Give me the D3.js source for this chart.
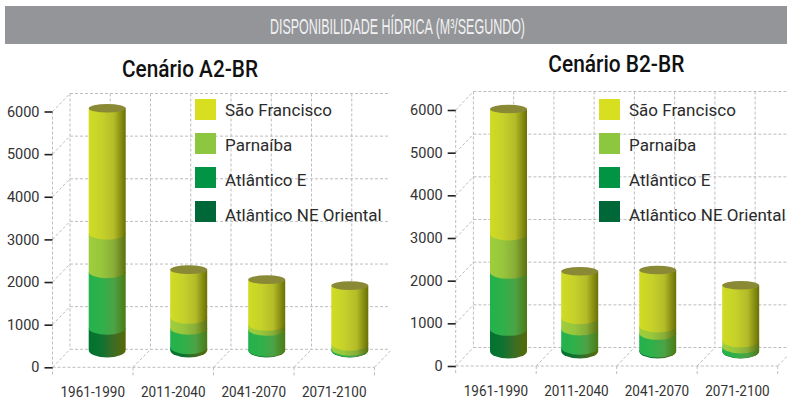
<!DOCTYPE html>
<html><head><meta charset="utf-8">
<script src="https://cdn.jsdelivr.net/npm/d3@7"></script>
<style>
html,body{margin:0;padding:0;background:#fff}
svg{display:block}
text{font-family:Roboto,sans-serif}
</style></head><body><svg id="c" width="787" height="413"></svg>
<script>
const periods = ["1961-1990","2011-2040","2041-2070","2071-2100"];
const seriesNames = ["São Francisco","Parnaíba","Atlântico E","Atlântico NE Oriental"];
const yTicks = [0,1000,2000,3000,4000,5000,6000];
const headerTitle = "DISPONIBILIDADE HÍDRICA (M³/SEGUNDO)";

// Scenario A2-BR (m³/s)
const a2NeOriental = [510,78,15,5];
const a2AtlanticoE = [1328,432,470,35];
const a2Parnaiba = [902,257,118,117];
const a2SaoFrancisco = [2930,1118,1047,1353];
// Scenario B2-BR (m³/s)
const b2NeOriental = [508,87,23,7];
const b2AtlanticoE = [1337,429,392,110];
const b2Parnaiba = [897,264,171,141];
const b2SaoFrancisco = [2929,1088,1312,1282];

const swatchColors = ["#d7df20","#8dc63f","#009444","#006838"];
const stackKeys = ["ne","e","p","sf"];
const sideStops = {
  sf:["#d0dc22","#c6d12a","#b4bc28","#6a7004"],
  p:["#9fce3c","#97c63c","#88ad38","#5c700e"],
  e:["#22b24c","#2fb04a","#4ca346","#4b7a14"],
  ne:["#00742f","#0f7230","#3e6c24","#566a06"]
};

const svg = d3.select("#c");
const defs = svg.append("defs");
stackKeys.forEach(k=>{
  const g = defs.append("linearGradient").attr("id","g-"+k);
  [0,.35,.68,1].forEach((o,i)=>g.append("stop").attr("offset",o).attr("stop-color",sideStops[k][i]));
});

svg.append("rect").attr("x",5).attr("y",6).attr("width",782).attr("height",38).attr("fill","#939598");
svg.append("text").attr("x",397.5).attr("y",34).attr("text-anchor","middle")
  .attr("fill","#f1f1f2").style("font-family","'Liberation Sans Narrow',sans-serif")
  .attr("font-size",21.5).attr("textLength",255).attr("lengthAdjust","spacingAndGlyphs").text(headerTitle);

function panel(cfg, values){
  const g = svg.append("g");
  const y = d3.scaleLinear().domain([0,6000]).range([cfg.y0,cfg.y6]);
  const x = d3.scaleBand().domain(periods).range([cfg.x0,cfg.x1]);
  const bx = d3.scaleOrdinal().domain(periods).range(cfg.centers);
  const backY = v=>y(v)-cfg.dy;
  const dash = s=>s.attr("stroke","#bdbdbd").attr("stroke-width",1).attr("stroke-dasharray","3 2").attr("fill","none");

  const grid = g.append("g");
  grid.selectAll("line.h").data(yTicks).join("line")
    .attr("x1",cfg.x0+cfg.dx).attr("x2",cfg.xEnd).attr("y1",backY).attr("y2",backY).call(dash);
  grid.selectAll("line.d").data(yTicks).join("line")
    .attr("x1",cfg.x0).attr("x2",cfg.x0+cfg.dx).attr("y1",v=>y(v)).attr("y2",backY).call(dash);
  const backX = d3.range(0,periods.length*2).map(i=>cfg.x0+cfg.dx+i*x.bandwidth()/2);
  grid.selectAll("line.v").data(backX).join("line")
    .attr("x1",d=>d).attr("x2",d=>d).attr("y1",backY(6000)).attr("y2",backY(0)).call(dash);
  grid.append("line").attr("x1",cfg.x0).attr("x2",cfg.x0).attr("y1",y(6000)).attr("y2",y(0)+8).call(dash);
  grid.append("line").attr("x1",cfg.x0).attr("x2",cfg.x1).attr("y1",y(0)).attr("y2",y(0)).call(dash);
  const bounds = d3.range(1,periods.length+1).map(i=>cfg.x0+i*x.bandwidth());
  grid.selectAll("line.f").data(bounds).join("line")
    .attr("x1",d=>d).attr("x2",d=>d+cfg.dx).attr("y1",y(0)).attr("y2",backY(0)).call(dash);
  grid.selectAll("line.t").data(bounds).join("line")
    .attr("x1",d=>d).attr("x2",d=>d).attr("y1",y(0)).attr("y2",y(0)+8).call(dash);

  const ya = g.append("g").attr("transform",`translate(${cfg.x0},0)`)
    .call(d3.axisLeft(y).tickValues(yTicks).tickSize(8).tickPadding(5).tickFormat(d3.format("d")));
  ya.select(".domain").remove();
  ya.selectAll("line").attr("stroke","#231f20").attr("stroke-width",1.6);
  ya.selectAll("text").attr("font-size",14.5).attr("fill","#333");

  const xa = g.append("g").attr("transform",`translate(0,${cfg.y0})`)
    .call(d3.axisBottom(x).tickSize(0).tickPadding(0));
  xa.select(".domain").remove();
  xa.selectAll("text").attr("font-size",14).attr("fill","#333").attr("dy",null)
    .attr("y",cfg.labelY-cfg.y0).attr("textLength",64.5).attr("lengthAdjust","spacingAndGlyphs");

  const rows = periods.map((p,i)=>({period:p,ne:values.ne[i],e:values.e[i],p:values.p[i],sf:values.sf[i]}));
  const stack = d3.stack().keys(stackKeys)(rows);
  const rx = 18.5;
  const yB = v=>cfg.base-(y(0)-y(v));
  const bars = g.selectAll("g.bar").data(rows).join("g").attr("class","bar");
  stack.forEach((layer,li)=>{
    bars.append("path")
      .attr("fill",`url(#g-${layer.key})`)
      .attr("d",(d,i)=>{
        const [v0,v1]=layer[i];
        const c=bx(d.period), l=c-rx, r=c+rx;
        const ry = (li===0||v0<300)?7.5:6.5;
        return `M${l},${yB(v1)}L${l},${yB(v0)}A${rx},${ry} 0 0 0 ${r},${yB(v0)}L${r},${yB(v1)}Z`;
      });
  });
  const top = stack[stack.length-1];
  bars.append("ellipse")
    .attr("cx",d=>bx(d.period)).attr("cy",(d,i)=>yB(top[i][1]))
    .attr("rx",rx).attr("ry",4.3).attr("fill","#8a8a36");

  const lg = g.selectAll("g.leg").data(seriesNames).join("g").attr("class","leg");
  lg.append("rect").attr("x",cfg.legX).attr("y",(d,i)=>99+i*34).attr("width",21).attr("height",21).attr("fill",(d,i)=>swatchColors[i]);
  lg.append("text").attr("x",cfg.legX+30).attr("y",(d,i)=>116+i*35).attr("font-size",17).attr("fill","#2b2b2b").text(d=>d);

  g.append("text").attr("x",cfg.titleX).attr("y",cfg.titleY).attr("font-size",23)
    .attr("font-weight",500).attr("fill","#111").attr("textLength",136).attr("lengthAdjust","spacingAndGlyphs").text(cfg.title);
}

panel({title:"Cenário A2-BR",titleX:122,titleY:76.5,x0:52.5,x1:374.5,xEnd:388,dx:17.5,dy:18,y0:367.3,y6:111.5,
  base:350,centers:[107.2,188.7,266.7,349.8],labelY:397.5,legX:195},
  {ne:a2NeOriental,e:a2AtlanticoE,p:a2Parnaiba,sf:a2SaoFrancisco});
panel({title:"Cenário B2-BR",titleX:548.3,titleY:71.5,x0:455.7,x1:777.7,xEnd:787,dx:17.7,dy:18.5,y0:366,y6:110,
  base:351,centers:[508.5,579.7,657.7,740.7],labelY:396,legX:599},
  {ne:b2NeOriental,e:b2AtlanticoE,p:b2Parnaiba,sf:b2SaoFrancisco});
</script></body></html>
